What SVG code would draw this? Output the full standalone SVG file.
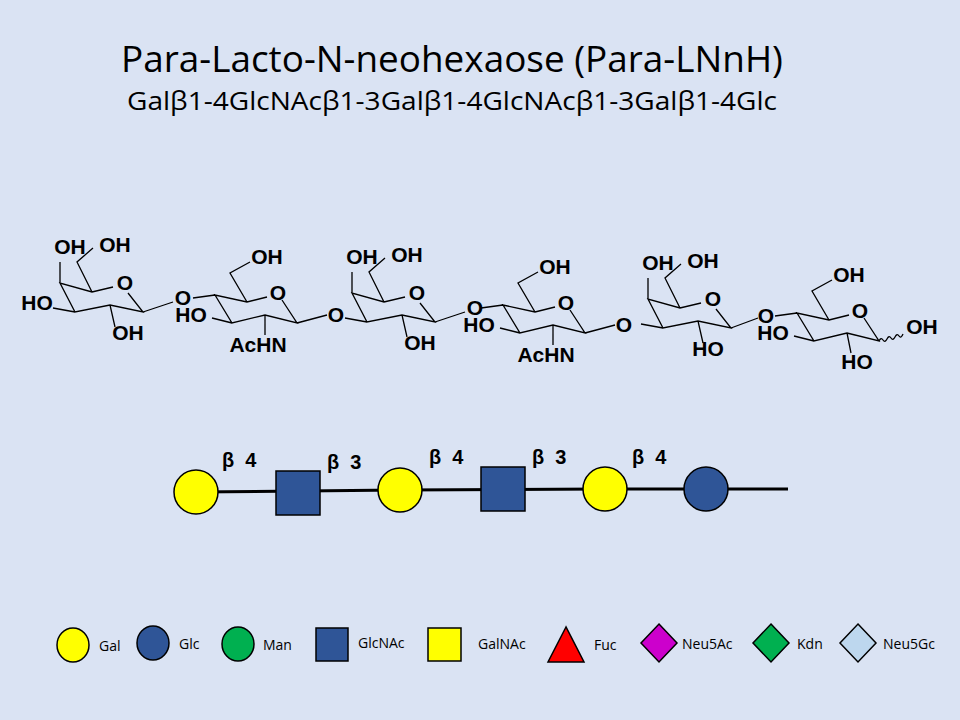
<svg xmlns="http://www.w3.org/2000/svg" width="960" height="720" viewBox="0 0 960 720">
<style>
.b{fill:none;stroke:#000;stroke-width:1.3}
.a{font-family:"Liberation Sans",Arial,sans-serif;font-weight:bold;font-size:21px;text-anchor:middle}
.t{font-family:"Open Sans","Liberation Sans",sans-serif;fill:#000}
.lg{font-family:"Open Sans","Liberation Sans",sans-serif;font-size:14px}
.bl{font-family:"Liberation Sans",Arial,sans-serif;font-weight:bold;font-size:20px}
.s{stroke:#000;stroke-width:1.5}
</style>
<rect width="960" height="720" fill="#dae3f3"/>
<text class="t" x="452" y="72" font-size="36" text-anchor="middle" textLength="662" lengthAdjust="spacingAndGlyphs">Para-Lacto-N-neohexaose (Para-LNnH)</text>
<text class="t" x="452" y="110" font-size="25" text-anchor="middle" textLength="650" lengthAdjust="spacingAndGlyphs">Galβ1-4GlcNAcβ1-3Galβ1-4GlcNAcβ1-3Galβ1-4Glc</text>

<g id="structure">
<g id="gal1" transform="translate(60,283)">
<path class="b" d="M53,4 L32,9 L0,0 L15,29 L50,22 L83,29 L68,10 M0,0 V-21 M32,9 L17,-21 L33,-35 M50,22 L55,44 M83,29 L113,19 M15,29 L-7,25"/>
<text class="a" x="10" y="-29">OH</text><text class="a" x="55" y="-31">OH</text><text class="a" x="65" y="7">O</text>
<text class="a" x="68" y="57">OH</text><text class="a" x="-23" y="27">HO</text><text class="a" x="123" y="22">O</text>
</g>
<g id="glcnac1" transform="translate(215,295)">
<path class="b" d="M52,2 L32,7 L0,0 L17,28 L50,20 L82,28 L67,5 M0,0 L-22,3 M32,7 L15,-22 L35,-33 M17,28 L-3,23 M50,20 V40 M82,28 L112,20"/>
<text class="a" x="52" y="-31">OH</text><text class="a" x="63" y="5">O</text><text class="a" x="-24" y="27">HO</text>
<text class="a" x="43" y="57">AcHN</text><text class="a" x="121" y="27">O</text>
</g>
<g id="gal2" transform="translate(352,293)">
<path class="b" d="M53,4 L32,9 L0,0 L15,29 L50,22 L83,29 L68,10 M0,0 V-21 M32,9 L17,-21 L33,-35 M50,22 L55,44 M83,29 L113,19 M15,29 L-7,25"/>
<text class="a" x="10" y="-29">OH</text><text class="a" x="55" y="-31">OH</text><text class="a" x="65" y="7">O</text>
<text class="a" x="68" y="57">OH</text><text class="a" x="123" y="22">O</text>
</g>
<g id="glcnac2" transform="translate(503,305)">
<path class="b" d="M52,2 L32,7 L0,0 L17,28 L50,20 L82,28 L67,5 M0,0 L-22,3 M32,7 L15,-22 L35,-33 M17,28 L-3,23 M50,20 V40 M82,28 L112,20"/>
<text class="a" x="52" y="-31">OH</text><text class="a" x="63" y="5">O</text><text class="a" x="-24" y="27">HO</text>
<text class="a" x="43" y="57">AcHN</text><text class="a" x="121" y="27">O</text>
</g>
<g id="gal3" transform="translate(648,299)">
<path class="b" d="M53,4 L32,9 L0,0 L15,29 L50,22 L83,29 L68,10 M0,0 V-21 M32,9 L17,-21 L33,-35 M50,22 L55,44 M83,29 L110,19 M15,29 L-7,25"/>
<text class="a" x="10" y="-29">OH</text><text class="a" x="55" y="-31">OH</text><text class="a" x="65" y="7">O</text>
<text class="a" x="60" y="57">HO</text><text class="a" x="118" y="24">O</text>
</g>
<g id="glc" transform="translate(797,313)">
<path class="b" d="M52,2 L32,7 L0,0 L17,28 L50,20 L82,28 L67,5 M0,0 L-22,3 M32,7 L15,-22 L35,-33 M17,28 L-3,23 M50,20 L54,40 M82,28 q2,-4 4,-1 q2,3 4,-1 q2,-4 4,-1 q2,3 4,-1 q2,-4 4,-1 q2,3 4,-2"/>
<text class="a" x="52" y="-31">OH</text><text class="a" x="63" y="5">O</text><text class="a" x="-24" y="27">HO</text>
<text class="a" x="60" y="56">HO</text><text class="a" x="125" y="21">OH</text>
</g>
</g>

<g id="connectors">
<path d="M196,492 L400,490 L605,489 L788,489" fill="none" stroke="#000" stroke-width="3"/>
</g>
<g id="chain">
<circle cx="196" cy="492" r="22" fill="#ffff00" class="s"/>
<rect x="276" y="471" width="44" height="44" fill="#2f5597" class="s"/>
<circle cx="400" cy="490" r="22" fill="#ffff00" class="s"/>
<rect x="481" y="467" width="44" height="44" fill="#2f5597" class="s"/>
<circle cx="605" cy="489" r="22" fill="#ffff00" class="s"/>
<circle cx="706" cy="489" r="22" fill="#2f5597" class="s"/>
<text class="bl" x="222" y="467" xml:space="preserve">β  4</text>
<text class="bl" x="327" y="469" xml:space="preserve">β  3</text>
<text class="bl" x="429" y="464" xml:space="preserve">β  4</text>
<text class="bl" x="532" y="464" xml:space="preserve">β  3</text>
<text class="bl" x="632" y="464" xml:space="preserve">β  4</text>
</g>

<g id="legend">
<ellipse cx="73" cy="645" rx="16" ry="17" fill="#ffff00" class="s"/><text class="lg" x="99" y="651">Gal</text>
<ellipse cx="153" cy="643" rx="16" ry="17" fill="#2f5597" class="s"/><text class="lg" x="179" y="649">Glc</text>
<ellipse cx="238" cy="644" rx="16" ry="17" fill="#00b050" class="s"/><text class="lg" x="263" y="650">Man</text>
<rect x="316" y="628" width="32" height="33" fill="#2f5597" class="s"/><text class="lg" x="358" y="648">GlcNAc</text>
<rect x="428" y="628" width="33" height="33" fill="#ffff00" class="s"/><text class="lg" x="478" y="649">GalNAc</text>
<polygon points="566,627 548,662 584,662" fill="#ff0000" class="s"/><text class="lg" x="594" y="650">Fuc</text>
<polygon points="659,624 677,643 659,662 641,643" fill="#cc00cc" class="s"/><text class="lg" x="682" y="649">Neu5Ac</text>
<polygon points="771,624 789,643 771,662 753,643" fill="#00b050" class="s"/><text class="lg" x="797" y="649">Kdn</text>
<polygon points="858,624 876,643 858,662 840,643" fill="#bdd7ee" class="s"/><text class="lg" x="883" y="649">Neu5Gc</text>
</g>
</svg>
